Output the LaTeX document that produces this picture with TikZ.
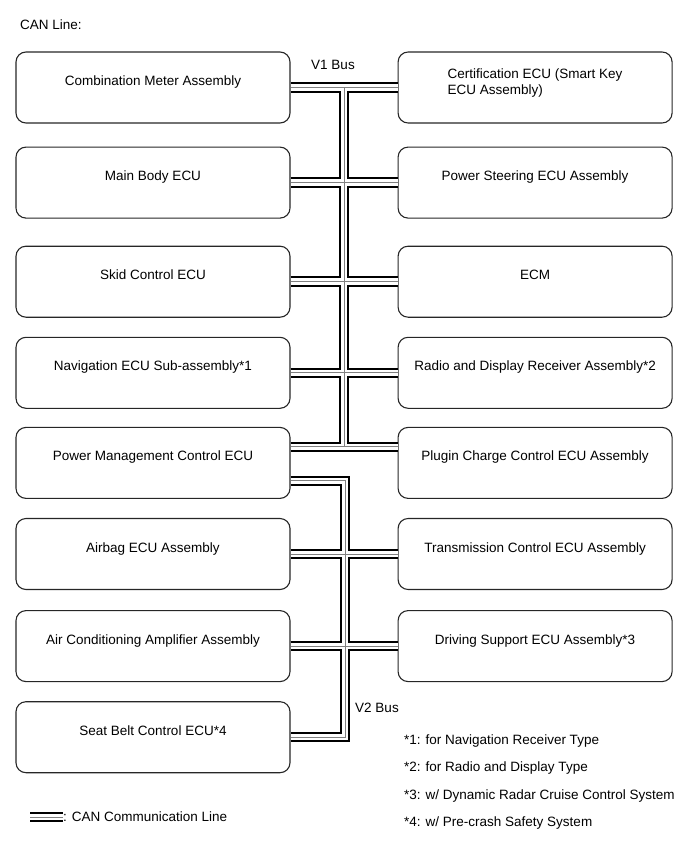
\documentclass[tikz,border=0pt]{standalone}
\usepackage{fontspec}
\setmainfont{Liberation Sans}
\usetikzlibrary{positioning}
\tikzset{
  ecu/.style={
    rectangle, rounded corners=10pt, draw=black!85, line width=1.1pt,
    minimum width=274pt, minimum height=71pt, inner sep=2pt,
    align=center, text height=10pt, text depth=14pt
  },
  wire/.style={line width=10.5pt, black},
  wirefill/.style={line width=6.5pt, white},
  wirecore/.style={line width=1pt, black!50},
  lbl/.style={inner sep=0pt, anchor=west}
}

\begin{document}
\begin{tikzpicture}[x=1pt, y=-1pt, font=\fontsize{13.5}{16}\selectfont]
  \useasboundingbox (0,0) rectangle (690,854);
  \node[lbl] (ttl) at (20,25) {CAN Line:};
  % left column
  \node[ecu] (cmb) at (153,87.5) {Combination Meter Assembly};
  \node[ecu, below=23pt of cmb] (mbe) {Main Body ECU};
  \node[ecu, below=27pt of mbe] (skd) {Skid Control ECU};
  \node[ecu, below=19pt of skd] (nav) {Navigation ECU Sub-assembly*1};
  \node[ecu, below=18pt of nav] (pmc) {Power Management Control ECU};
  \node[ecu, below=19pt of pmc] (abg) {Airbag ECU Assembly};
  \node[ecu, below=20pt of abg] (aco) {Air Conditioning Amplifier Assembly};
  \node[ecu, below=19pt of aco] (sbc) {Seat Belt Control ECU*4};
  % right column
  \node[ecu, right=107pt of cmb, align=left, text height=23pt,
        text depth=10pt] (crt)
    {Certification ECU (Smart Key\\ECU Assembly)};
  \node[ecu, right=107pt of mbe] (pse) {Power Steering ECU Assembly};
  \node[ecu, right=107pt of skd] (ecm) {ECM};
  \node[ecu, right=107pt of nav] (rdr) {Radio and Display Receiver Assembly*2};
  \node[ecu, right=107pt of pmc] (plg) {Plugin Charge Control ECU Assembly};
  \node[ecu, right=107pt of abg] (tcm) {Transmission Control ECU Assembly};
  \node[ecu, right=107pt of aco] (dse) {Driving Support ECU Assembly*3};
  % bus labels
  \node (v1l) at (333,65) {V1 Bus};
  \node (v2l) at (377,708) {V2 Bus};
  \coordinate (v1) at (344,0);
  \coordinate (v2) at (345,0);
  % legend
  \coordinate (lgs) at (30,817);
  \node[lbl] (lgt) at (63,817) {: CAN Communication Line};
  % CAN lines, black then white then core
  \foreach \s in {wire,wirefill,wirecore}{
    \draw[\s] (cmb.east) -- (crt.west);
    \draw[\s] (mbe.east) -- (pse.west);
    \draw[\s] (skd.east) -- (ecm.west);
    \draw[\s] (nav.east) -- (rdr.west);
    \draw[\s] ([yshift=16pt]pmc.east) -- ([yshift=16pt]plg.west);
    \draw[\s] (cmb.east -| v1) -- ([yshift=16pt]pmc.east -| v1);
    \draw[\s] ([yshift=-18pt]pmc.east) -| (v2 |- sbc.east) -- (sbc.east);
    \draw[\s] (abg.east) -- (tcm.west);
    \draw[\s] (aco.east) -- (dse.west);
    \draw[\s] (lgs) -- (lgt.west);
  }
  % notes
  \node[lbl] (fn1) at (404,741) {*1: for Navigation Receiver Type};
  \node[lbl] (fn2) at (404,768) {*2: for Radio and Display Type};
  \node[lbl] (fn3) at (404,796) {*3: w/ Dynamic Radar Cruise Control System};
  \node[lbl] (fn4) at (404,823) {*4: w/ Pre-crash Safety System};
\end{tikzpicture}
\end{document}
